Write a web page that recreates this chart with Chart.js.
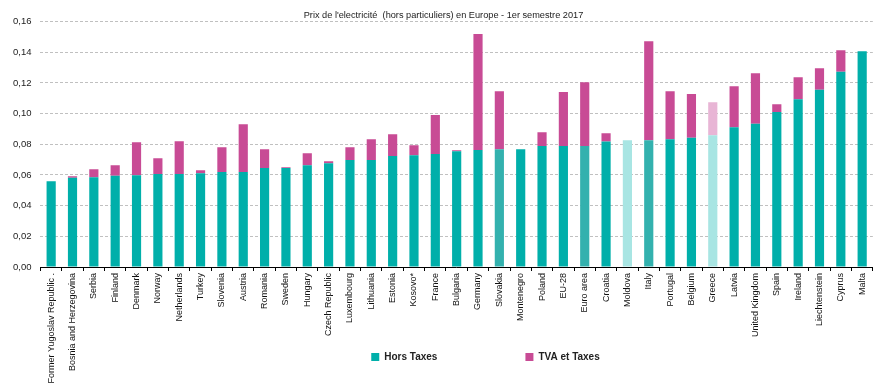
<!DOCTYPE html>
<html>
<head>
<meta charset="utf-8">
<script src="https://cdn.jsdelivr.net/npm/chart.js@4"></script>
<style>
  html, body { margin: 0; padding: 0; background: #fff; }
  #wrap { width: 875px; height: 391px; }
</style>
</head>
<body>
<div id="wrap"><canvas id="prixChart"></canvas></div>
<script>
// Pays (ordre du graphique)
const pays = [
  "Former Yugoslav Republic .", "Bosnia and Herzegovina", "Serbia", "Finland", "Denmark",
  "Norway", "Netherlands", "Turkey", "Slovenia", "Austria", "Romania", "Sweden", "Hungary",
  "Czech Republic", "Luxembourg", "Lithuania", "Estonia", "Kosovo*", "France", "Bulgaria",
  "Germany", "Slovakia", "Montenegro", "Poland", "EU-28", "Euro area", "Croatia", "Moldova",
  "Italy", "Portugal", "Belgium", "Greece", "Latvia", "United Kingdom", "Spain", "Ireland",
  "Liechtenstein", "Cyprus", "Malta"
];

// Prix hors taxes (EUR/kWh)
const horsTaxes = [
  0.0559, 0.0581, 0.0585, 0.0594, 0.0598, 0.0607, 0.0607, 0.0611, 0.0620, 0.0620,
  0.0646, 0.0646, 0.0663, 0.0676, 0.0698, 0.0698, 0.0724, 0.0729, 0.0737, 0.0755,
  0.0763, 0.0768, 0.0768, 0.0789, 0.0789, 0.0789, 0.0818, 0.0826, 0.0826, 0.0833,
  0.0842, 0.0859, 0.0911, 0.0933, 0.1011, 0.1094, 0.1155, 0.1272, 0.1407
];

// TVA et autres taxes (EUR/kWh)
const tvaTaxes = [
  0.0000, 0.0011, 0.0052, 0.0069, 0.0215, 0.0102, 0.0213, 0.0020, 0.0161, 0.0311,
  0.0122, 0.0004, 0.0079, 0.0014, 0.0083, 0.0135, 0.0142, 0.0065, 0.0253, 0.0006,
  0.0755, 0.0378, 0.0000, 0.0090, 0.0351, 0.0416, 0.0054, 0.0000, 0.0646, 0.0313,
  0.0285, 0.0215, 0.0268, 0.0330, 0.0050, 0.0143, 0.0141, 0.0141, 0.0000
];

const yTicks = [0, 0.02, 0.04, 0.06, 0.08, 0.10, 0.12, 0.14, 0.16];

// couleurs
const TEAL = "#00afaa";
const TEAL_FONCE = "#33b1ae";
const TEAL_CLAIR = "#a8e5e3";
const ROSE = "#c84b95";
const ROSE_CLAIR = "#e8b5d5";
const paysFonces = ["Slovakia", "Euro area", "Italy"];
const paysClairs = ["Moldova", "Greece"];

function couleurHT(ctx) {
  const nom = pays[ctx.dataIndex];
  if (paysFonces.includes(nom)) return TEAL_FONCE;
  if (paysClairs.includes(nom)) return TEAL_CLAIR;
  return TEAL;
}
function couleurTVA(ctx) {
  const nom = pays[ctx.dataIndex];
  if (paysClairs.includes(nom)) return ROSE_CLAIR;
  return ROSE;
}

Chart.defaults.font.family = "'Liberation Sans', Arial, sans-serif";
Chart.defaults.font.size = 10;
Chart.defaults.color = "#111";

const LEG_PAD = 88;

// les noms de pays descendent sous la legende, comme dans l'original
const placeLegende = {
  id: "placeLegende",
  afterLayout(chart) {
    const x = chart.scales.x;
    x.bottom = chart.height;
    const lg = chart.legend;
    if (lg) {
      lg.left += 47; lg.right += 47;
      lg.top = 352 - LEG_PAD;
      lg.bottom = chart.height;
      lg.height = lg.bottom - lg.top;
    }
    const t = chart.titleBlock;
    if (t) { t.left += 5; t.right += 5; }
  }
};

const ctx = document.getElementById("prixChart").getContext("2d");
const prixChart = new Chart(ctx, {
  type: "bar",
  data: {
    labels: pays,
    datasets: [
      {
        label: "Hors Taxes",
        data: horsTaxes,
        backgroundColor: (c) => c.dataIndex === undefined ? TEAL : couleurHT(c),
        barPercentage: 0.43,
        categoryPercentage: 1,
      },
      {
        label: "TVA et Taxes",
        data: tvaTaxes,
        backgroundColor: (c) => c.dataIndex === undefined ? ROSE : couleurTVA(c),
        barPercentage: 0.43,
        categoryPercentage: 1,
      },
    ],
  },
  options: {
    responsive: true,
    maintainAspectRatio: false,
    animation: false,
    layout: { padding: { left: 4, right: 2, top: 0, bottom: 0 } },
    plugins: {
      title: {
        display: true,
        text: "Prix de l'electricité  (hors particuliers) en Europe - 1er semestre 2017",
        font: { size: 9.2, weight: "normal" },
        color: "#222",
        padding: { top: 10, bottom: 0.5 },
      },
      legend: {
        position: "bottom",
        maxHeight: 20,
        labels: {
          boxWidth: 8,
          boxHeight: 8,
          padding: LEG_PAD,
          font: { size: 10, weight: "bold" },
          color: "#222",
        },
      },
      tooltip: { enabled: false },
    },
    scales: {
      x: {
        stacked: true,
        grid: {
          offset: true,
          drawOnChartArea: false,
          drawTicks: true,
          tickLength: 4,
          color: "#000",
        },
        border: { display: true, color: "#000", width: 1 },
        ticks: {
          autoSkip: false,
          maxRotation: 90,
          minRotation: 90,
          padding: 2,
          color: "#111",
          font: { size: 9 },
        },
        afterFit(scale) { scale.height = 104; },
      },
      y: {
        stacked: true,
        min: 0,
        max: 0.16,
        afterBuildTicks(scale) { scale.ticks = yTicks.map(v => ({ value: v })); },
        ticks: {
          padding: 9,
          color: "#222",
          font: { size: 9.5 },
          callback: (v) => Number(v).toFixed(2).replace(".", ","),
        },
        grid: { color: "#c0c0c0", drawTicks: false },
        border: { display: false, dash: [3, 2] },
      },
    },
  },
  plugins: [placeLegende],
});
</script>
</body>
</html>
